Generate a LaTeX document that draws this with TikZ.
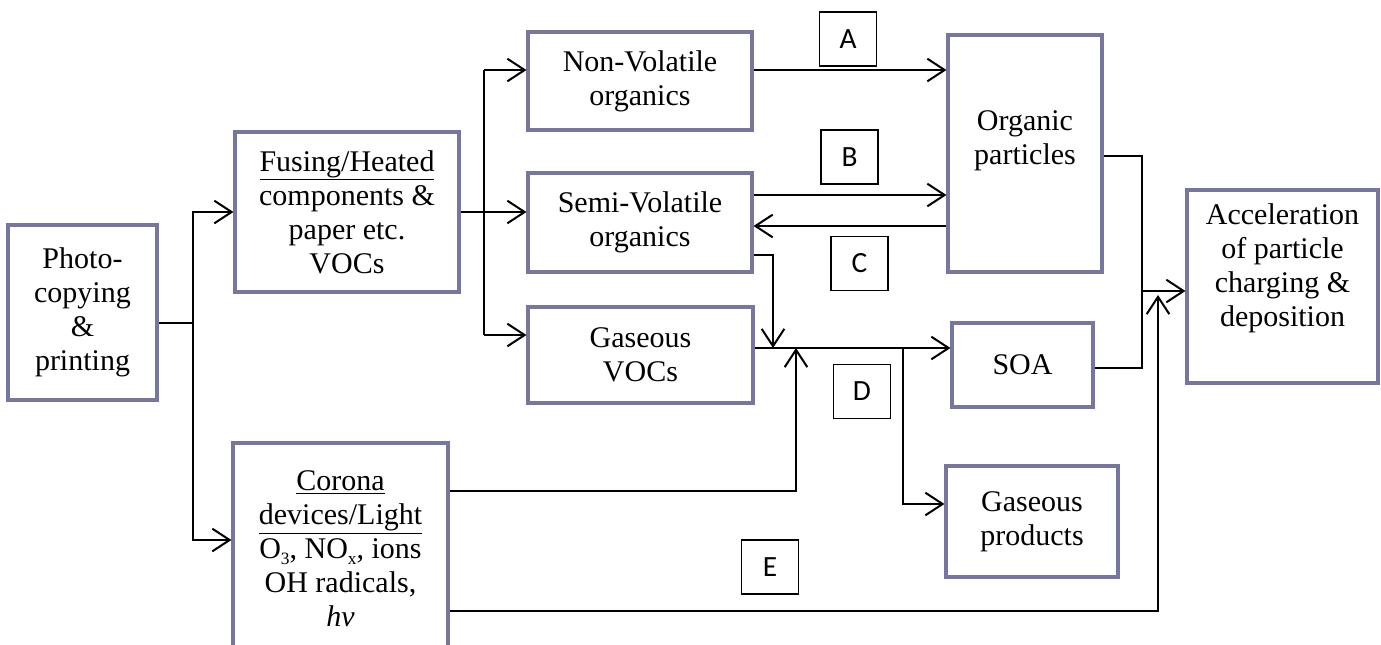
\documentclass[tikz,border=0pt]{standalone}
\usepackage{fontspec}
\setmainfont{Liberation Serif}
\newfontfamily\labfont{Carlito}
\usetikzlibrary{arrows.meta}
\definecolor{boxc}{RGB}{118,118,160}
\newcommand{\lowsub}[1]{\raisebox{-0.45ex}{\fontsize{13}{13}\selectfont #1}}
\begin{document}
\begin{tikzpicture}[x=0.75pt,y=-0.75pt,
 wh/.style 2 args={minimum width=#1*0.75pt,minimum height=#2*0.75pt},
 box/.style={draw=boxc,line width=2.3pt,fill=white,inner sep=0pt,align=center,font=\fontsize{22.5}{25.5}\selectfont},
 lbl/.style={draw=black,line width=1.2pt,inner sep=0pt,minimum width=42.75pt,minimum height=40.5pt,font=\labfont\fontsize{22}{24}\selectfont},
 txt/.style={align=center,font=\fontsize{22.5}{25.5}\selectfont,inner sep=0pt},
 conn/.style={line width=1.5pt},
 arr/.style={conn,-{Straight Barb[length=13pt,width=17pt,line width=1.5pt]}}]
\clip (0,0) rectangle (1381,644);
\fill[white] (0,0) rectangle (1381,644);

% boxes
\node[box,wh={149}{175}] (photo) at (82.5,312.5) {Photo-\\copying\\\&\\printing};
\node[box,wh={224}{160}] (fusing) at (347,212) {\underline{Fusing/Heated}\\components \&\\paper etc.\\VOCs};
\node[box,wh={215}{212}] (corona) at (340.5,549) {\underline{Corona}\\\underline{devices/Light}\\O\lowsub{3}, NO\lowsub{x}, ions\\OH radicals,\\\textit{hν}};
\node[box,wh={224}{98}] (nv) at (640,81) {Non-Volatile\\organics};
\node[box,wh={224}{99}] (sv) at (640,222.5) {Semi-Volatile\\organics};
\node[box,wh={225}{96}] (gv) at (640.5,355) {Gaseous\\VOCs};
\node[box,wh={154}{237}] (org) at (1025,153.5) {};
\node[txt] (orgtxt) at (1025,141) {Organic\\particles};
\node[box,wh={141}{84}] (soa) at (1022.5,365) {SOA};
\node[box,wh={172}{111}] (gp) at (1032,521.5) {Gaseous\\products};
\node[box,wh={191}{193}] (acc) at (1282.5,286.5) {};
\node[txt] (acctxt) at (1282.5,268) {Acceleration\\of particle\\charging \&\\deposition};

% letter labels
\node[lbl] (la) at (848,39) {A};
\node[lbl] (lb) at (849.5,157) {B};
\node[lbl] (lc) at (859.5,263.5) {C};
\node[lbl] (ld) at (862,391.5) {D};
\node[lbl] (le) at (770,567) {E};

% connectors
\coordinate (j1) at (193,323);
\coordinate (j1b) at (193,540);
\draw[conn] (photo.east |- j1) -- (j1);
\draw[arr] (j1) |- (fusing.west);
\draw[arr] (j1) -- (j1b) -- (j1b -| corona.west);

\coordinate (j2t) at (484,70);
\coordinate (j2b) at (484,335);
\draw[arr] (fusing.east) -- (fusing.east -| sv.west);
\draw[conn] (j2t) -- (j2b);
\draw[arr] (j2t) -- (j2t -| nv.west);
\draw[arr] (j2b) -- (j2b -| gv.west);

\coordinate (ya) at (0,70);
\coordinate (yb) at (0,195);
\coordinate (yc) at (0,226);
\draw[arr] (nv.east |- ya) -- (org.west |- ya);
\draw[arr] (sv.east |- yb) -- (org.west |- yb);
\draw[arr] (org.west |- yc) -- (sv.east |- yc);

\coordinate (k1) at (773,255);
\coordinate (mainj) at (773,348);
\draw[arr] (sv.east |- k1) -- (k1) -- (mainj);
\draw[arr] (gv.east |- mainj) -- (soa.west |- mainj);
\coordinate (k2) at (796,491);
\draw[arr] (corona.east |- k2) -- (k2) -- (k2 |- mainj);
\coordinate (k3) at (903,348);
\coordinate (k4) at (903,504);
\draw[arr] (k3) -- (k4) -- (k4 -| gp.west);

\coordinate (k5) at (1142,156);
\coordinate (k6) at (1142,368);
\draw[conn] (org.east |- k5) -- (k5) -- (k6) -- (soa.east |- k6);
\coordinate (k7) at (1142,291);
\draw[arr] (k7) -- (k7 -| acc.west);
\coordinate (k8) at (1158,611);
\coordinate (k9) at (1158,295);
\draw[arr] (corona.east |- k8) -- (k8) -- (k9);
\end{tikzpicture}
\end{document}
